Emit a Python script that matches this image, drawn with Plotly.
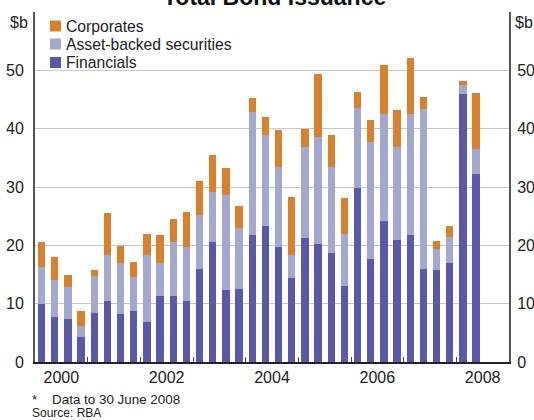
import plotly.graph_objects as go

quarters = [
    "2000Q1", "2000Q2", "2000Q3", "2000Q4",
    "2001Q1", "2001Q2", "2001Q3", "2001Q4",
    "2002Q1", "2002Q2", "2002Q3", "2002Q4",
    "2003Q1", "2003Q2", "2003Q3", "2003Q4",
    "2004Q1", "2004Q2", "2004Q3", "2004Q4",
    "2005Q1", "2005Q2", "2005Q3", "2005Q4",
    "2006Q1", "2006Q2", "2006Q3", "2006Q4",
    "2007Q1", "2007Q2", "2007Q3", "2007Q4",
    "2008Q1", "2008Q2",
]

financials = [
    9.9, 7.7, 7.3, 4.3,
    8.4, 10.4, 8.2, 8.7,
    6.8, 11.4, 11.3, 10.4,
    15.9, 20.5, 12.3, 12.6,
    21.7, 23.3, 19.7, 14.4,
    21.2, 20.3, 18.7, 13.0,
    29.8, 17.6, 24.1, 21.0,
    21.7, 15.9, 15.8, 17.0,
    46.0, 32.3,
]
asset_backed = [
    6.4, 6.3, 5.6, 1.9,
    6.4, 8.0, 8.7, 5.9,
    11.6, 5.6, 9.2, 9.4,
    9.3, 8.6, 16.3, 10.4,
    21.2, 15.7, 13.8, 4.0,
    15.7, 18.3, 14.8, 9.0,
    13.8, 20.2, 18.4, 15.9,
    20.8, 27.5, 3.5, 4.4,
    1.5, 4.3,
]
corporates = [
    4.3, 4.0, 2.1, 2.5,
    1.0, 7.2, 3.0, 2.6,
    3.6, 4.8, 4.0, 5.9,
    5.8, 6.4, 4.6, 3.8,
    2.4, 3.0, 6.3, 9.9,
    3.1, 10.7, 5.5, 6.2,
    2.7, 3.7, 8.4, 6.3,
    9.7, 2.0, 1.4, 2.0,
    0.7, 9.5,
]

series_names = ["Financials", "Asset-backed securities", "Corporates"]
year_labels = ["2000", "2002", "2004", "2006", "2008"]
year_bounds = [2001, 2002, 2003, 2004, 2005, 2006, 2007, 2008]
y_ticks = [0, 10, 20, 30, 40, 50]

# numeric x position: centre of each quarter within its year
xpos = [int(q[:4]) + (int(q[5]) - 0.5) / 4 for q in quarters]

FONT = "Arial, 'Liberation Sans', sans-serif"
colors = ["#5B58A7", "#A4A7CE", "#D8802C"]

W, H = 534, 420
ML, MR, MT, MB = 35, 25, 12, 58
PW, PH = W - ML - MR, H - MT - MB


def px_x(px):
    return (px - ML) / PW


def px_y(py):
    return (H - MB - py) / PH


fig = go.Figure()
for name, vals, col in zip(series_names, [financials, asset_backed, corporates], colors):
    fig.add_bar(x=xpos, y=vals, name=name, marker=dict(color=col, line=dict(width=0)),
                showlegend=False)
# empty trace so that the mirrored right-hand axis is drawn
fig.add_scatter(x=[], y=[], yaxis="y2", showlegend=False, hoverinfo="skip")

fig.update_layout(
    width=W, height=H,
    margin=dict(l=ML, r=MR, t=MT, b=MB, autoexpand=False),
    barmode="stack", bargap=0.45,
    plot_bgcolor="white", paper_bgcolor="white",
    font=dict(family=FONT, size=16, color="#222"),
    xaxis=dict(
        range=[2000, 2009], automargin=False,
        tickvals=[int(y) + 0.5 for y in year_labels], ticktext=year_labels,
        ticks="", showgrid=False, zeroline=False,
        showline=True, linecolor="#222", linewidth=2,
        tickfont=dict(size=16, color="#222"),
        minor=dict(tickvals=year_bounds, ticks="inside", ticklen=5,
                   tickwidth=1, tickcolor="#444", showgrid=False),
    ),
    yaxis=dict(
        range=[0, 60], automargin=False,
        tickvals=y_ticks + [60], ticktext=[str(v) for v in y_ticks] + [""],
        ticks="", showgrid=True, gridcolor="#C4C8CF", gridwidth=1.2,
        zeroline=False, showline=True, linecolor="#555", linewidth=2,
        tickfont=dict(size=16, color="#222"), ticklabelstandoff=6,
    ),
    yaxis2=dict(
        overlaying="y", side="right", anchor="x", automargin=False,
        range=[0, 60],
        tickvals=y_ticks, ticktext=[str(v) for v in y_ticks],
        ticks="", showgrid=False, zeroline=False,
        showline=True, linecolor="#555", linewidth=2,
        tickfont=dict(size=16, color="#222"), ticklabelstandoff=3,
    ),
)

annotations = [
    dict(text="<b>Total Bond Issuance</b>", xref="paper", yref="paper",
         x=px_x(274), y=1.0, xanchor="center", yanchor="bottom", showarrow=False,
         font=dict(size=23, color="#111"), yshift=0),
    dict(text="$b", xref="paper", yref="paper", x=0, y=1.0,
         xanchor="right", yanchor="top", xshift=-5, yshift=0, showarrow=False,
         font=dict(size=16, color="#222")),
    dict(text="$b", xref="paper", yref="paper", x=1, y=1.0,
         xanchor="left", yanchor="top", xshift=4, yshift=0, showarrow=False,
         font=dict(size=16, color="#222")),
    dict(text="*&nbsp;&nbsp;&nbsp;&nbsp;Data to 30 June 2008", xref="paper", yref="paper",
         x=px_x(30), y=px_y(399),
         xanchor="left", yanchor="middle", showarrow=False,
         font=dict(size=13.4, color="#222")),
    dict(text="Source: RBA", xref="paper", yref="paper", x=px_x(30), y=px_y(413),
         xanchor="left", yanchor="middle", showarrow=False,
         font=dict(size=12, color="#222")),
]

# key (legend): top row is the top of the stack
shapes = []
key_rows = [26, 44, 62.5]
for row_y, name, col in zip(key_rows, series_names[::-1], colors[::-1]):
    shapes.append(dict(type="rect", xref="paper", yref="paper",
                       x0=px_x(50), x1=px_x(61), y0=px_y(row_y + 5.5), y1=px_y(row_y - 5.5),
                       fillcolor=col, line=dict(width=0)))
    annotations.append(dict(text=name, xref="paper", yref="paper",
                            x=px_x(64), y=px_y(row_y), xanchor="left", yanchor="middle",
                            showarrow=False, font=dict(size=15.7, color="#222")))

fig.update_layout(annotations=annotations, shapes=shapes)

fig.write_html("out.html", config={"displayModeBar": False},
               post_script="document.body.style.margin='0';")
